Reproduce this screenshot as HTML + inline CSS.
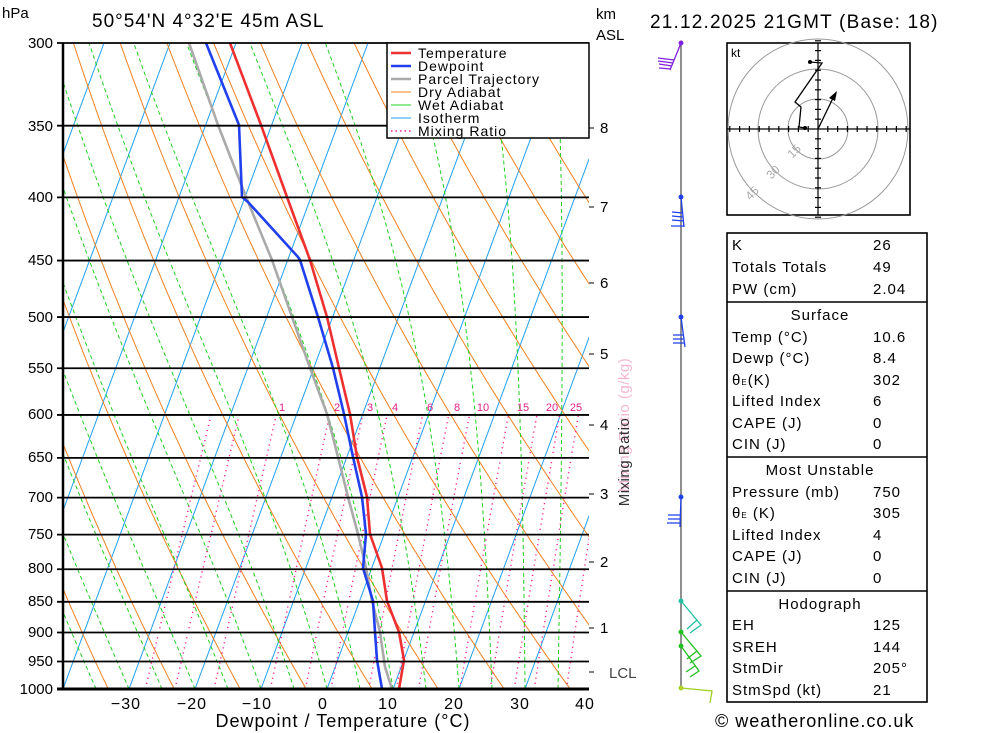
<!DOCTYPE html>
<html><head><meta charset="utf-8"><style>
body{margin:0;background:#fff;}
svg{display:block;font-family:"Liberation Sans",sans-serif;}
</style></head><body>
<svg id="s" width="1000" height="733" viewBox="0 0 1000 733" xmlns="http://www.w3.org/2000/svg">
<defs><clipPath id="pc"><rect x="63" y="43" width="526" height="646"/></clipPath></defs>
<rect width="1000" height="733" fill="#fff"/>
<g id="grid" clip-path="url(#pc)"></g>
<g id="data" clip-path="url(#pc)" fill="none" stroke-width="2.6" stroke-linejoin="round">
<polyline stroke="#aaaaaa" points="189,43 218,125 246,197 272,260 292,317 310,368 327,414 338,457 348,497 358,534 366,568 372,601 380,632 385,667 392,689"/>
<polyline stroke="#2040ee" points="206,43 239,125 242,197 248,202 298,257 300,260 318,317 333,368 344,414 353,457 362,497 366,534 363,568 373,601 375,632 377,660 382,689"/>
<polyline stroke="#ee3030" points="230,43 261,125 287,197 310,260 327,317 339,368 350,414 357,457 367,497 370,534 382,568 387,601 399,632 404,660 399,689"/>
</g>
<g font-size="11" fill="#e0208a" text-anchor="middle">
<text x="282" y="411">1</text><text x="337" y="411">2</text><text x="370" y="411">3</text><text x="395" y="411">4</text><text x="430" y="411">6</text><text x="457" y="411">8</text><text x="483" y="411">10</text><text x="523" y="411">15</text><text x="552" y="411">20</text><text x="576" y="411">25</text>
</g>
<g id="frame" stroke="#000"></g>
<g font-size="15" fill="#000" text-anchor="end">
<text x="53" y="48">300</text><text x="53" y="131">350</text><text x="53" y="202">400</text><text x="53" y="265">450</text><text x="53" y="322">500</text><text x="53" y="373">550</text><text x="53" y="419">600</text><text x="53" y="462">650</text><text x="53" y="502">700</text><text x="53" y="539">750</text><text x="53" y="573">800</text><text x="53" y="606">850</text><text x="53" y="637">900</text><text x="53" y="666">950</text><text x="53" y="694">1000</text>
</g>
<g font-size="16" fill="#000" text-anchor="middle" letter-spacing="1">
<text x="126" y="709">−30</text><text x="192" y="709">−20</text><text x="257" y="709">−10</text><text x="323" y="709">0</text><text x="388" y="709">10</text><text x="454" y="709">20</text><text x="520" y="709">30</text><text x="585" y="709">40</text>
<text x="343" y="727" font-size="18">Dewpoint / Temperature (°C)</text>
</g>
<text x="2" y="18" font-size="15">hPa</text>
<text x="92" y="27" font-size="19" letter-spacing="1">50°54'N  4°32'E  45m  ASL</text>
<text x="596" y="19" font-size="15">km</text>
<text x="596" y="40" font-size="15">ASL</text>
<text x="650" y="28" font-size="19" letter-spacing="1.2">21.12.2025  21GMT  (Base: 18)</text>
<g font-size="15" fill="#000">
<text x="600" y="133">8</text><text x="600" y="212">7</text><text x="600" y="288">6</text><text x="600" y="359">5</text><text x="600" y="430">4</text><text x="600" y="499">3</text><text x="600" y="567">2</text><text x="600" y="633">1</text><text x="609" y="678" fill="#444">LCL</text>
</g>
<text transform="translate(629,425) rotate(-90)" font-size="15" fill="#f4b6d2" text-anchor="middle" letter-spacing="0.5">Mixing Ratio (g/kg)</text>
<text transform="translate(629,462) rotate(-90)" font-size="15" fill="#333" text-anchor="middle" letter-spacing="0.5">Mixing Ratio</text>
<!-- legend -->
<rect x="387" y="43" width="202" height="95" fill="#fff" stroke="#000" stroke-width="1.5"/>
<g><line x1="391" y1="53" x2="411" y2="53" stroke="#ee3030" stroke-width="2.5"/><line x1="391" y1="66" x2="411" y2="66" stroke="#2040ee" stroke-width="2.5"/><line x1="391" y1="79" x2="411" y2="79" stroke="#aaa" stroke-width="2.5"/><line x1="391" y1="92" x2="411" y2="92" stroke="#f08020" stroke-width="1"/><line x1="391" y1="105" x2="411" y2="105" stroke="#20d020" stroke-width="1"/><line x1="391" y1="118" x2="411" y2="118" stroke="#20a0f0" stroke-width="1"/><line x1="391" y1="131" x2="411" y2="131" stroke="#ff2090" stroke-width="1.5" stroke-dasharray="1.5,3"/></g>
<g font-size="14" letter-spacing="1"><text x="418" y="58">Temperature</text><text x="418" y="71">Dewpoint</text><text x="418" y="84">Parcel Trajectory</text><text x="418" y="97">Dry Adiabat</text><text x="418" y="110">Wet Adiabat</text><text x="418" y="123">Isotherm</text><text x="418" y="136">Mixing Ratio</text></g>
<!-- wind -->
<line x1="681" y1="43" x2="681" y2="689" stroke="#555" stroke-width="1.3"/>
<g fill="none" stroke-width="1.3">
<g stroke="#8020e0"><path d="M681,43 L670,70 M674,60 L658,58 M673,63 L658,61 M672,66 L659,64 M671,69 L659,68"/><circle cx="681" cy="43" r="1.8" fill="#8020e0"/></g>
<g stroke="#2040ee"><path d="M681,197 L684,227 M683,213 L672,212 M683,217 L672,216 M684,221 L672,220 M684,226 L671,226"/><circle cx="681" cy="197" r="1.8" fill="#2040ee"/>
<path d="M681,317 L685,347 M684,335 L673,335 M684,339 L673,339 M685,343 L673,343"/><circle cx="681" cy="317" r="1.8" fill="#2040ee"/>
<path d="M681,497 L680,527 M680,515 L668,515 M680,519 L668,519 M680,523 L667,523"/><circle cx="681" cy="497" r="1.8" fill="#2040ee"/></g>
<g stroke="#20c0a0"><path d="M681,601 L701,625 L690,633 M697,620 L687,629"/><circle cx="681" cy="601" r="1.8" fill="#20c0a0"/></g>
<g stroke="#20c020"><path d="M681,632 L701,656 L690,663 M697,651 L687,659 M681,646 L699,671 L690,677 M695,666 L686,672"/><circle cx="681" cy="632" r="1.8" fill="#20c020"/><circle cx="681" cy="646" r="1.8" fill="#20c020"/></g>
<g stroke="#a0d020"><path d="M681,688 L712,691 L710,703"/><circle cx="681" cy="688" r="1.8" fill="#d0d020"/></g>
</g>
<!-- hodograph -->
<rect x="727" y="43" width="183" height="172" fill="#fff" stroke="#000" stroke-width="1.6"/>
<g fill="none" stroke="#999" stroke-width="1"><circle cx="818" cy="129" r="30"/><circle cx="818" cy="129" r="60"/><circle cx="818" cy="129" r="90"/></g>
<g id="hax" stroke="#000" stroke-width="1.2"><line x1="727" y1="129" x2="910" y2="129"/><line x1="818" y1="43" x2="818" y2="215"/></g>
<g fill="#aaa" font-size="12" text-anchor="middle"><text transform="translate(797,154) rotate(-45)">15</text><text transform="translate(776,175) rotate(-45)">30</text><text transform="translate(755,196) rotate(-45)">45</text></g>
<text x="731" y="57" font-size="12">kt</text>
<polyline fill="none" stroke="#000" stroke-width="1.3" points="805,128 799,127 801,107 795,102 822,63 810,62"/>
<circle cx="810" cy="62" r="2" fill="#000"/><circle cx="805" cy="128" r="2" fill="#000"/>
<line x1="818" y1="129" x2="834" y2="96" stroke="#000" stroke-width="1.3"/>
<path d="M837,91 L829,98 L835,101 Z" fill="#000"/>
<!-- table -->
<rect x="727" y="233" width="200" height="469" fill="#fff" stroke="#000" stroke-width="1.6"/>
<g stroke="#000" stroke-width="1.6"><line x1="727" y1="302" x2="927" y2="302"/><line x1="727" y1="457" x2="927" y2="457"/><line x1="727" y1="591" x2="927" y2="591"/></g>
<g font-size="15" letter-spacing="1">
<text x="732" y="250">K</text><text x="873" y="250">26</text>
<text x="732" y="272">Totals Totals</text><text x="873" y="272">49</text>
<text x="732" y="294">PW (cm)</text><text x="873" y="294">2.04</text>
<text x="820" y="320" text-anchor="middle">Surface</text>
<text x="732" y="342">Temp (°C)</text><text x="873" y="342">10.6</text>
<text x="732" y="363">Dewp (°C)</text><text x="873" y="363">8.4</text>
<text x="732" y="385">θ<tspan font-size="8">E</tspan>(K)</text><text x="873" y="385">302</text>
<text x="732" y="406">Lifted Index</text><text x="873" y="406">6</text>
<text x="732" y="428">CAPE (J)</text><text x="873" y="428">0</text>
<text x="732" y="449">CIN (J)</text><text x="873" y="449">0</text>
<text x="820" y="475" text-anchor="middle">Most Unstable</text>
<text x="732" y="497">Pressure (mb)</text><text x="873" y="497">750</text>
<text x="732" y="518">θ<tspan font-size="8">E</tspan> (K)</text><text x="873" y="518">305</text>
<text x="732" y="540">Lifted Index</text><text x="873" y="540">4</text>
<text x="732" y="561">CAPE (J)</text><text x="873" y="561">0</text>
<text x="732" y="583">CIN (J)</text><text x="873" y="583">0</text>
<text x="820" y="609" text-anchor="middle">Hodograph</text>
<text x="732" y="630">EH</text><text x="873" y="630">125</text>
<text x="732" y="652">SREH</text><text x="873" y="652">144</text>
<text x="732" y="673">StmDir</text><text x="873" y="673">205°</text>
<text x="732" y="695">StmSpd (kt)</text><text x="873" y="695">21</text>
</g>
<text x="715" y="727" font-size="18" letter-spacing="1">© weatheronline.co.uk</text>
<script>
(function(){
var NS="http://www.w3.org/2000/svg";
function Y(p){return 43+Math.log(p/300)/Math.log(10/3)*646;}
function X(T,p){return 327+6.6*T+0.37*(689-Y(p));}
var g=document.getElementById('grid');
function pl(pts,col,w,dash){var e=document.createElementNS(NS,'polyline');e.setAttribute('points',pts.map(function(a){return a[0].toFixed(1)+','+a[1].toFixed(1)}).join(' '));e.setAttribute('fill','none');e.setAttribute('stroke',col);e.setAttribute('stroke-width',w);if(dash)e.setAttribute('stroke-dasharray',dash);g.appendChild(e);}
var ps=[];for(var p=1000;p>=300;p-=10)ps.push(p);
for(var T=-130;T<=40;T+=10){pl([[X(T,1000),Y(1000)],[X(T,300),Y(300)]],'#20a0f0',1);}
for(var th=230;th<=470;th+=10){pl(ps.map(function(p){return [X(th*Math.pow(p/1000,0.2857)-273.15,p),Y(p)]}),'#f08020',1);}
function es(Tc){return 6.112*Math.exp(17.67*Tc/(Tc+243.5));}
for(var t0=-40;t0<=40;t0+=5){var TK=t0+273.15,pts=[[X(t0,1000),Y(1000)]];
 for(var p=1000;p>300;p-=2){var Tc=TK-273.15,e=es(Tc),rs=0.622*e/(p-e);
  var d=(287*TK+2.5e6*rs)/(1004+2.5e6*2.5e6*rs*0.622/(287*TK*TK))/p;TK-=d*2;
  if(p%10==2)pts.push([X(TK-273.15,p-2),Y(p-2)]);}
 pl(pts,'#20d020',1,'4,3');}
[0.4,0.6,1,2,3,4,6,8,10,15,20,25,30,40].forEach(function(w){var pts=[];for(var p=1000;p>=600;p-=10){var e=w*p/(622+w),a=Math.log(e/6.112),Td=243.5*a/(17.67-a);pts.push([X(Td,p),Y(p)]);}pl(pts,'#ff2090',1.4,'1.2,4');});
var f=document.getElementById('frame');
function ln(x1,y1,x2,y2,w){var e=document.createElementNS(NS,'line');e.setAttribute('x1',x1);e.setAttribute('y1',y1);e.setAttribute('x2',x2);e.setAttribute('y2',y2);e.setAttribute('stroke-width',w);f.appendChild(e);}
[300,350,400,450,500,550,600,650,700,750,800,850,900,950,1000].forEach(function(p){var y=Y(p);ln(57,y,589,y,p==1000?3:1.8);});
ln(63,43,63,689,2.5);
[628,562,494,425,354,283,207,128,672].forEach(function(y){ln(589,y,594,y,1);});
var h=document.getElementById('hax');
for(var i=-9;i<=9;i++){if(i==0)continue;var l=document.createElementNS(NS,'line');l.setAttribute('x1',818+i*9.8);l.setAttribute('x2',818+i*9.8);l.setAttribute('y1',126);l.setAttribute('y2',132);h.appendChild(l);
 var m=document.createElementNS(NS,'line');m.setAttribute('y1',129+i*9.8);m.setAttribute('y2',129+i*9.8);m.setAttribute('x1',815);m.setAttribute('x2',821);h.appendChild(m);}
})();
</script>
</svg>
</body></html>
